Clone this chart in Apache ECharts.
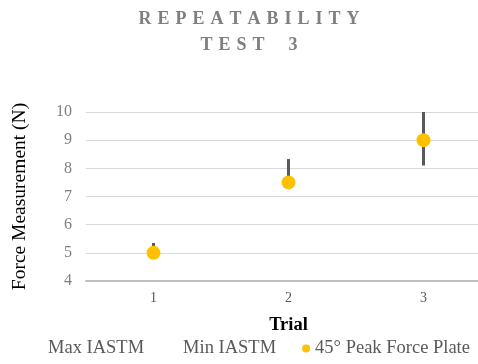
<!DOCTYPE html>
<html>
<head>
<meta charset="utf-8">
<script src="https://cdn.jsdelivr.net/npm/echarts@6/dist/echarts.min.js"></script>
<style>
  html, body { margin: 0; padding: 0; background: #ffffff; }
  #chart { width: 478px; height: 364px; }
</style>
</head>
<body>
<div id="chart"></div>
<script>
// Trials and measured forces (N)
var trials = ['1', '2', '3'];
var maxIastm = [5.35, 8.33, 10.0];
var minIastm = [4.9, 7.4, 8.1];
var peakForcePlate = [5.0, 7.5, 9.0];
var yTicks = [4, 5, 6, 7, 8, 9, 10];

var serif = '"Liberation Serif", "Times New Roman", serif';

// Spread the letters of a title line apart
function spaced(s) {
  return s.split('').map(function (c) { return c === ' ' ? '\u2004\u2004' : c; }).join('\u2004');
}

// High-low bars joining max and min for each trial
var hiLoData = trials.map(function (t, i) { return [i, maxIastm[i], minIastm[i]]; });

var chart = echarts.init(document.getElementById('chart'), null, { renderer: 'canvas' });

chart.setOption({
  animation: false,
  backgroundColor: '#ffffff',
  title: {
    text: spaced('REPEATABILITY') + '\n' + spaced('TEST 3'),
    left: 244,
    top: 1,
    textAlign: 'center',
    textStyle: {
      fontFamily: serif,
      fontWeight: 'bold',
      fontSize: 18,
      color: '#7f7f7f',
      lineHeight: 26,
      align: 'center'
    }
  },
  legend: {
    left: 35,
    top: 339,
    width: 470,
    padding: 0,
    itemWidth: 8,
    itemHeight: 8,
    itemGap: 26,
    icon: 'circle',
    textStyle: { fontFamily: serif, fontSize: 18.5, color: '#595959' },
    data: ['Max IASTM', 'Min IASTM', '45° Peak Force Plate']
  },
  grid: { left: 86, top: 112, width: 405, height: 169, outerBoundsMode: 'none' },
  xAxis: {
    type: 'category',
    data: trials,
    boundaryGap: true,
    name: 'Trial',
    nameLocation: 'middle',
    nameGap: 35,
    nameTextStyle: { fontFamily: serif, fontWeight: 'bold', fontSize: 18.5, color: '#000000' },
    axisLine: { lineStyle: { color: '#bfbfbf', width: 2 } },
    axisTick: { show: false },
    axisLabel: { fontFamily: serif, fontSize: 14, color: '#595959', margin: 10 },
    splitLine: { show: false }
  },
  yAxis: {
    type: 'value',
    min: yTicks[0],
    max: yTicks[yTicks.length - 1],
    interval: 1,
    name: 'Force Measurement (N)',
    nameLocation: 'middle',
    nameGap: 56,
    nameTextStyle: { fontFamily: serif, fontSize: 19.5, color: '#000000' },
    axisLine: { show: false },
    axisTick: { show: false },
    axisLabel: { fontFamily: serif, fontSize: 16, color: '#7f7f7f', margin: 14 },
    splitLine: { lineStyle: { color: '#d9d9d9', width: 1 } }
  },
  series: [
    {
      name: 'Max IASTM',
      type: 'line',
      data: maxIastm,
      showSymbol: false,
      color: 'rgba(0,0,0,0)',
      lineStyle: { opacity: 0 }
    },
    {
      name: 'Min IASTM',
      type: 'line',
      data: minIastm,
      showSymbol: false,
      color: 'rgba(0,0,0,0)',
      lineStyle: { opacity: 0 }
    },
    {
      name: 'hi-lo',
      type: 'custom',
      data: hiLoData,
      z: 2,
      renderItem: function (params, api) {
        var top = api.coord([api.value(0), api.value(1)]);
        var bottom = api.coord([api.value(0), api.value(2)]);
        return {
          type: 'line',
          shape: { x1: top[0], y1: top[1], x2: bottom[0], y2: bottom[1] },
          style: { stroke: '#595959', lineWidth: 3 }
        };
      }
    },
    {
      name: '45° Peak Force Plate',
      type: 'scatter',
      data: peakForcePlate,
      symbol: 'circle',
      symbolSize: 14,
      z: 5,
      color: '#ffc000',
      itemStyle: { color: '#ffc000', opacity: 1 }
    }
  ]
});
</script>
</body>
</html>
